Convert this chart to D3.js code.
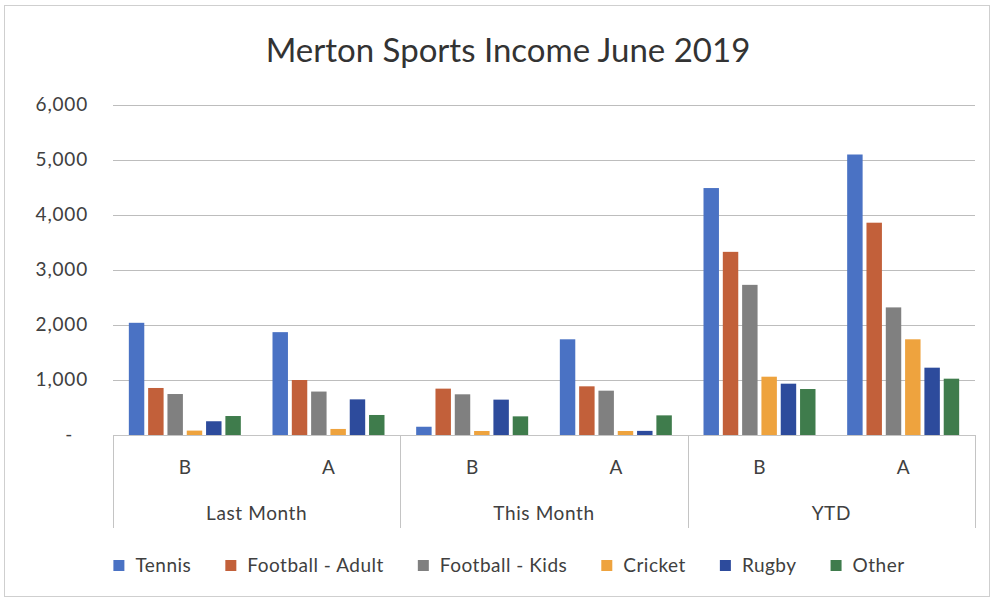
<!DOCTYPE html>
<html>
<head>
<meta charset="utf-8">
<script src="https://cdn.jsdelivr.net/npm/d3@7"></script>
<style>
  html, body { margin: 0; padding: 0; background: #fff; }
  svg { display: block; }
  text { font-family: Lato, "Noto Sans", sans-serif; fill: #404040; }
</style>
</head>
<body>
<svg id="chart" width="995" height="601"></svg>
<script>
// Categories: periods split into B and A
const groups = ["Last Month", "This Month", "YTD"];
const subs = ["B", "A"];
const seriesNames = ["Tennis", "Football - Adult", "Football - Kids", "Cricket", "Rugby", "Other"];

// Income per series, in order: LM-B, LM-A, TM-B, TM-A, YTD-B, YTD-A
const tennis        = [2040, 1870, 150, 1740, 4490, 5100];
const footballAdult = [855, 1000, 843, 885, 3330, 3860];
const footballKids  = [745, 790, 740, 806, 2730, 2320];
const cricket       = [80, 110, 73, 73, 1060, 1740];
const rugby         = [250, 648, 643, 75, 933, 1224];
const other         = [345, 364, 339, 357, 836, 1024];

const yTicks = [0, 1000, 2000, 3000, 4000, 5000, 6000];
const colors = ["#4a72c4", "#c2603a", "#808080", "#eea33e", "#2d4b9c", "#3f7c4c"];

const seriesValues = [tennis, footballAdult, footballKids, cricket, rugby, other];
const cells = [];
groups.forEach(g => subs.forEach(s => cells.push({ group: g, sub: s, key: g + "|" + s })));

const svg = d3.select("#chart");

// outer frame
svg.append("rect")
  .attr("x", 4.5).attr("y", 5.5).attr("width", 985).attr("height", 591)
  .attr("fill", "none").attr("stroke", "#cfcfcf").attr("stroke-width", 1);

// title
svg.append("text")
  .attr("x", 508).attr("y", 62)
  .attr("text-anchor", "middle")
  .style("font-size", "33px")
  .style("fill", "#333")
  .text("Merton Sports Income June 2019");

const plotLeft = 113, plotRight = 975;
const y = d3.scaleLinear().domain([0, 6000]).range([435, 105]);
const x0 = d3.scaleBand().domain(cells.map(c => c.key)).range([plotLeft, plotRight]).padding(0);
const x1 = d3.scaleBand().domain(seriesNames).range([0, x0.bandwidth()])
  .paddingInner(0.2).paddingOuter(0.82);

// gridlines
svg.append("g").selectAll("line").data(yTicks.filter(t => t > 0)).join("line")
  .attr("x1", plotLeft).attr("x2", plotRight)
  .attr("y1", d => Math.round(y(d)) + 0.5).attr("y2", d => Math.round(y(d)) + 0.5)
  .attr("stroke", "#bdbdbd").attr("stroke-width", 1);

// y tick labels (accounting style: zero shown as a dash)
const fmt = d3.format(",");
svg.append("g").selectAll("text").data(yTicks).join("text")
  .attr("x", d => d === 0 ? 73 : 88)
  .attr("y", d => y(d) + 6)
  .attr("text-anchor", "end")
  .style("font-size", "19px")
  .style("letter-spacing", "0.8px")
  .text(d => d === 0 ? "-" : fmt(d));

// bars
const barG = svg.append("g");
cells.forEach((c, i) => {
  barG.append("g")
    .attr("transform", `translate(${x0(c.key)},0)`)
    .selectAll("rect")
    .data(seriesNames.map((name, si) => ({ name, si, value: seriesValues[si][i] })))
    .join("rect")
    .attr("x", d => x1(d.name))
    .attr("width", x1.bandwidth())
    .attr("y", d => y(d.value))
    .attr("height", d => y(0) - y(d.value))
    .attr("fill", d => colors[d.si]);
});

// category axis: baseline and group dividers
const axisG = svg.append("g").attr("stroke", "#c4c4c4").attr("stroke-width", 1);
axisG.append("line")
  .attr("x1", plotLeft).attr("x2", plotRight)
  .attr("y1", 435.5).attr("y2", 435.5);
const dividers = [plotLeft].concat(groups.map(g => x0(g + "|A") + x0.bandwidth()));
axisG.selectAll("line.div").data(dividers).join("line")
  .attr("class", "div")
  .attr("x1", d => Math.round(d) + 0.5).attr("x2", d => Math.round(d) + 0.5)
  .attr("y1", 435).attr("y2", 528);

// sub-category labels
svg.append("g").selectAll("text").data(cells).join("text")
  .attr("x", d => x0(d.key) + x0.bandwidth() / 2)
  .attr("y", 474)
  .attr("text-anchor", "middle")
  .style("font-size", "19px")
  .text(d => d.sub);

// group labels
svg.append("g").selectAll("text").data(groups).join("text")
  .attr("x", g => x0(g + "|B"))
  .attr("dx", x0.bandwidth())
  .attr("y", 520)
  .attr("text-anchor", "middle")
  .style("font-size", "19px")
  .style("letter-spacing", "0.6px")
  .text(g => g);

// legend
const legend = svg.append("g");
const items = legend.selectAll("g").data(seriesNames).join("g");
items.append("rect").attr("width", 11).attr("height", 11).attr("y", -12)
  .attr("fill", (d, i) => colors[i]);
items.append("text").attr("x", 22).attr("y", 0)
  .style("font-size", "19px")
  .style("letter-spacing", "0.5px")
  .text(d => d);
let cx = 0;
const positions = [];
items.each(function () {
  positions.push(cx);
  cx += this.getBBox().width + 34;
});
const total = cx - 34;
const startX = 509 - total / 2;
items.attr("transform", (d, i) => `translate(${startX + positions[i]},572)`);
</script>
</body>
</html>
